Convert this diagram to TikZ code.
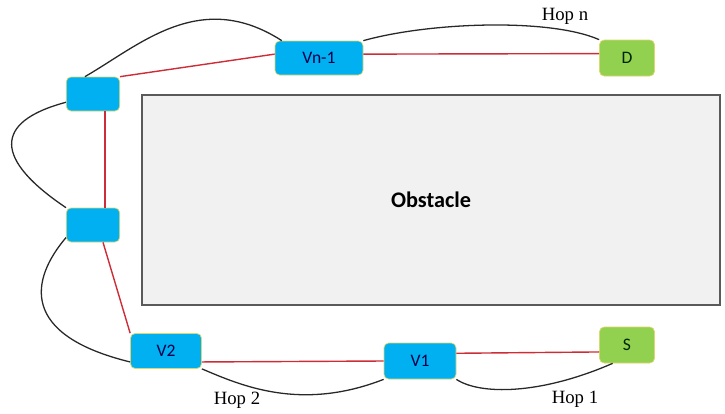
\documentclass[tikz,border=0pt]{standalone}
\usepackage{fontspec}
\setmainfont{Liberation Serif}
\newfontfamily\boxfont{Carlito}
\definecolor{nodeblue}{RGB}{0,176,240}
\definecolor{nodegreen}{RGB}{146,208,80}
\definecolor{nodeedge}{RGB}{222,214,110}
\definecolor{linkred}{RGB}{205,45,55}
\definecolor{hopgray}{RGB}{40,40,40}
\definecolor{obsfill}{RGB}{241,241,241}
\definecolor{obsedge}{RGB}{90,90,90}
\begin{document}
\begin{tikzpicture}[x=0.03cm, y=-0.03cm,
    relay/.style={rectangle, rounded corners=4pt, draw=nodeedge, line width=0.6pt, fill=nodeblue,
        text=black!70!blue, minimum width=1.6cm, minimum height=1.02cm, inner sep=0pt,
        font=\boxfont\fontsize{15}{17}\selectfont},
    term/.style={relay, fill=nodegreen, text=black!85!green, minimum width=1.65cm, minimum height=1.08cm},
    obstacle/.style={rectangle, draw=obsedge, line width=1pt, fill=obsfill,
        minimum width=17.34cm, minimum height=6.3cm, font=\boxfont\bfseries\fontsize{19}{22}\selectfont},
    link/.style={draw=linkred, line width=1.2pt},
    hop/.style={draw=hopgray, line width=1.1pt},
    every node/.style={font=\fontsize{16}{18}\selectfont}
]
\useasboundingbox (0,0) rectangle (725,413);

\node[obstacle] (obs) at (431,200) {Obstacle};

\node[relay] (va) at (93,94) {};
\node[relay] (vb) at (93,225) {};
\node[relay, minimum width=2.64cm] (vn) at (319,58) {Vn-1};
\node[relay, minimum width=2.13cm, minimum height=1.05cm] (v2) at (166,351) {V2};
\node[relay, minimum width=2.16cm, minimum height=1.08cm] (v1) at (420,361) {V1};
\node[term] (d) at (627,58) {D};
\node[term] (s) at (627,345) {S};

\node (hn) at (565,16) {Hop n};
\node (h2) at (237,400) {Hop 2};
\node (h1) at (575,399) {Hop 1};

% route around the obstacle
\draw[link] (s.194) -- (v1.12);
\draw[link] (v1.west) -- (v2.-17);
\draw[link] (v2.north west) -- (vb.-60);
\draw[link] (vb.55) -- (va.-55);
\draw[link] (va.north east) -- (vn.175);
\draw[link] (vn.5) -- (d.171);

% hops
\draw[hop] (s.232) .. controls (540,395) and (480,395) .. (v1.south east);
\draw[hop] (v1.south west) .. controls (300,412) and (240,385) .. (v2.south east);
\draw[hop] (v2.197) .. controls (20,335) and (30,280) .. (vb.205);
\draw[hop] (vb.north west) .. controls (-5,160) and (-8,122) .. (va.197);
\draw[hop] (va.115) .. controls (140,45) and (200,-12) .. (vn.155);
\draw[hop] (vn.north east) .. controls (430,22) and (550,18) .. (d.north west);
\end{tikzpicture}
\end{document}
